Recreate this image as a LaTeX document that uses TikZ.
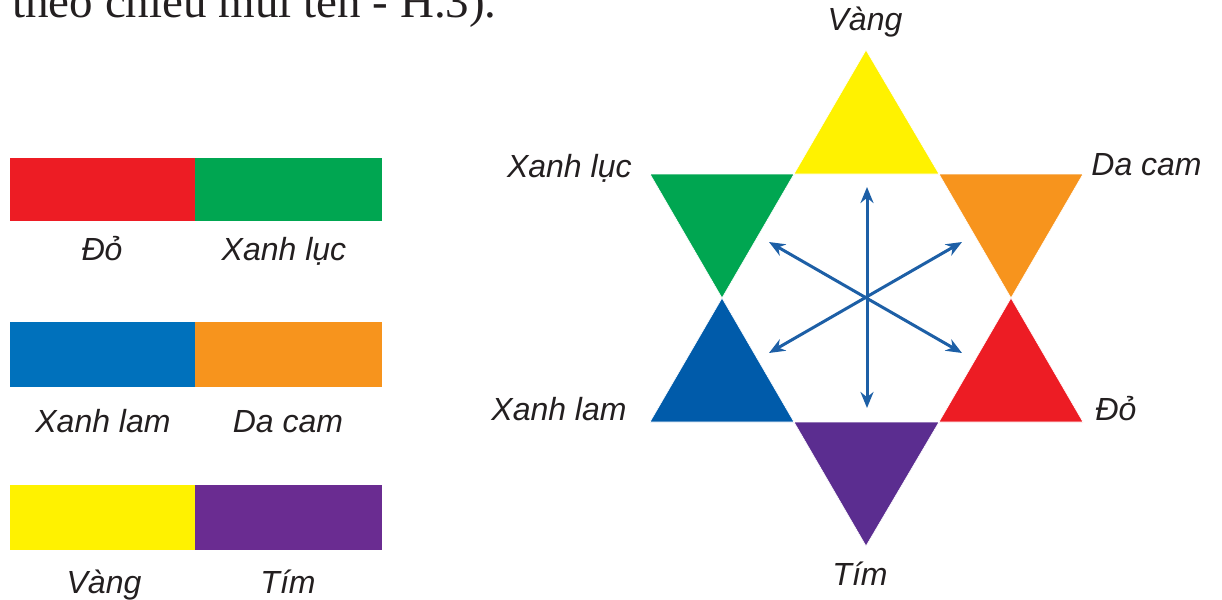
\documentclass[tikz,border=0pt]{standalone}
\usepackage{fontspec}
\setmainfont{Liberation Sans}
\newfontfamily\serifvn{Liberation Serif}
\usetikzlibrary{arrows.meta}
\definecolor{cred}{HTML}{ED1C24}
\definecolor{cgreen}{HTML}{00A651}
\definecolor{cblue}{HTML}{0071BC}
\definecolor{corange}{HTML}{F7941D}
\definecolor{cyellow}{HTML}{FFF200}
\definecolor{cpurple}{HTML}{6A2C91}
\definecolor{sblue}{HTML}{005BAA}
\definecolor{spurple}{HTML}{5B2D90}
\definecolor{arrblue}{HTML}{1D5FA6}
\definecolor{txt}{HTML}{231F20}
\begin{document}
\begin{tikzpicture}[x=0.5pt,y=-0.5pt,
  lbl/.style={font=\fontsize{16}{18}\selectfont\itshape, text=txt, inner sep=0pt},
  tri/.style={draw=white, line width=0.3pt},
  arr/.style={draw=arrblue, line width=1.5pt, {Stealth[length=8pt,width=6.5pt]}-{Stealth[length=8pt,width=6.5pt]}}]
\useasboundingbox (0,0) rectangle (1222,600);
\clip (0,0) rectangle (1222,600);

% top line of cut text
\node[font=\serifvn\fontsize{23.5}{26}\selectfont, text=txt, inner sep=0pt, anchor=base east] (toptext) at (497,17) {theo chiều mũi tên - H.3).};

% left bars
\fill[cred] (10,158) rectangle (195,221);
\fill[cgreen] (195,158) rectangle (382,221);
\fill[cblue] (10,322) rectangle (195,387);
\fill[corange] (195,322) rectangle (382,387);
\fill[cyellow] (10,485) rectangle (195,550);
\fill[cpurple] (195,485) rectangle (382,550);

\node[lbl, anchor=base] (l1) at (102,260) {Đỏ};
\node[lbl, anchor=base] (l2) at (284,260) {Xanh lục};
\node[lbl, anchor=base] (l3) at (103,432) {Xanh lam};
\node[lbl, anchor=base] (l4) at (288,432) {Da cam};
\node[lbl, anchor=base] (l5) at (104,593) {Vàng};
\node[lbl, anchor=base] (l6) at (288,593) {Tím};

% hexagram
\coordinate (T) at (866,50);
\coordinate (B) at (866,546);
\coordinate (OL1) at (650,174);
\coordinate (OR1) at (1083,174);
\coordinate (OL2) at (650,422);
\coordinate (OR2) at (1083,422);
\coordinate (H1) at (794,174);
\coordinate (H2) at (939,174);
\coordinate (H3) at (1011,298);
\coordinate (H4) at (939,422);
\coordinate (H5) at (794,422);
\coordinate (H6) at (722,298);

\fill[tri, fill=cyellow] (T) -- (H1) -- (H2) -- cycle;
\fill[tri, fill=cgreen] (OL1) -- (H1) -- (H6) -- cycle;
\fill[tri, fill=corange] (H2) -- (OR1) -- (H3) -- cycle;
\fill[tri, fill=sblue] (H6) -- (H5) -- (OL2) -- cycle;
\fill[tri, fill=cred] (H3) -- (OR2) -- (H4) -- cycle;
\fill[tri, fill=spurple] (H5) -- (H4) -- (B) -- cycle;

% arrows
\coordinate (aT) at (867,187);
\coordinate (aB) at (867,408);
\coordinate (aUL) at (769,242);
\coordinate (aLR) at (962,353);
\coordinate (aUR) at (962,242);
\coordinate (aLL) at (769,353);
\draw[arr] (aT) -- (aB);
\draw[arr] (aUL) -- (aLR);
\draw[arr] (aUR) -- (aLL);

% star labels
\node[lbl, anchor=base] (sV) at (865,30) {Vàng};
\node[lbl, anchor=base east] (sXL) at (632,177) {Xanh lục};
\node[lbl, anchor=base west] (sDC) at (1091,175) {Da cam};
\node[lbl, anchor=base east] (sXla) at (627,420) {Xanh lam};
\node[lbl, anchor=base west] (sD) at (1095,420) {Đỏ};
\node[lbl, anchor=base] (sT) at (860,585) {Tím};
\end{tikzpicture}
\end{document}
